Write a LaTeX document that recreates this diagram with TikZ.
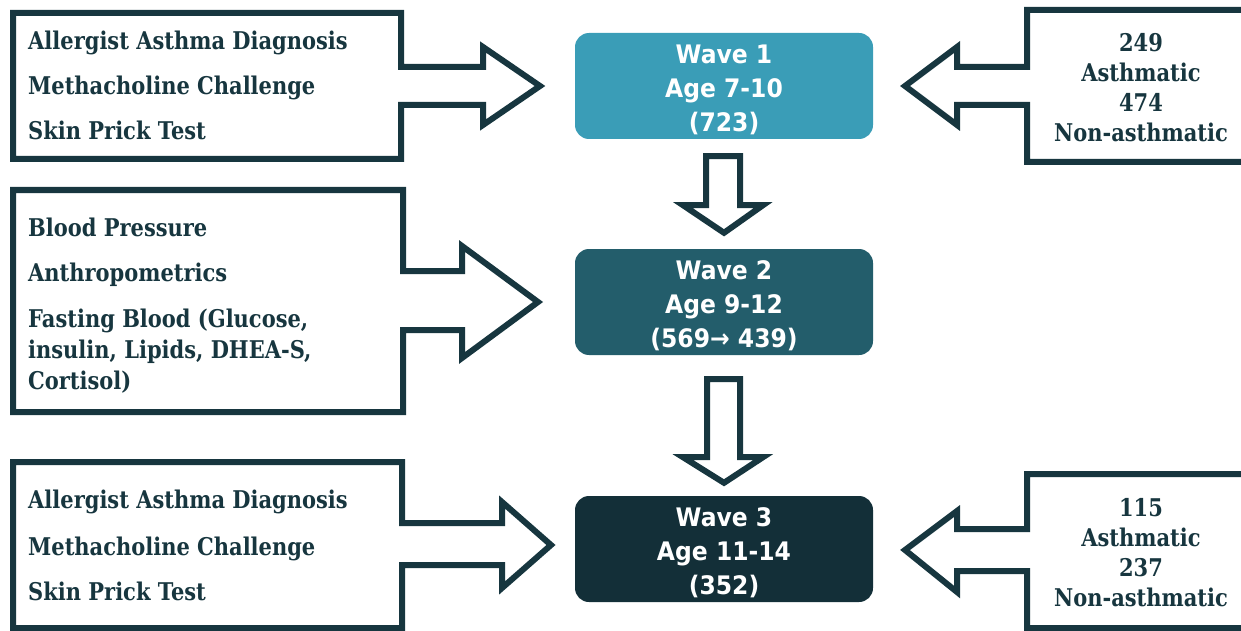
\documentclass[tikz,border=0pt]{standalone}
\usepackage{fontspec}
\newfontfamily\calloutfont{DejaVu Serif}[FakeStretch=0.86]
\newfontfamily\wavefont{DejaVu Sans}[FakeStretch=0.92]
\definecolor{ink}{HTML}{17363F}
\definecolor{waveA}{HTML}{3A9DB7}
\definecolor{waveB}{HTML}{235D6B}
\definecolor{waveC}{HTML}{132F38}
\tikzset{
  shapeline/.style={draw=ink, line width=6pt, line join=miter, fill=white},
  wavebox/.style={rounded corners=14pt, minimum width=298pt, minimum height=106pt,
    text=white, align=center, inner sep=0pt,
    font=\wavefont\bfseries\fontsize{25.5}{34}\selectfont},
  lefttext/.style={anchor=base west, inner sep=0pt, text=ink, align=left,
    font=\calloutfont\bfseries\fontsize{24.4}{31}\selectfont},
  righttext/.style={anchor=center, inner sep=0pt, text=ink, align=center,
    font=\calloutfont\bfseries\fontsize{24.4}{30}\selectfont},
}
\newcommand{\toppad}{\rule{0pt}{27pt}}
\begin{document}
\begin{tikzpicture}[x=1pt,y=-1pt]
\useasboundingbox (0,0) rectangle (1241,631);
% wave boxes
\node[wavebox, fill=waveA] (w1) at (724,86) {\toppad Wave 1\\Age 7-10\\(723)};
\node[wavebox, fill=waveB] (w2) at (724,302) {\toppad Wave 2\\Age 9-12\\(569\textrightarrow\ 439)};
\node[wavebox, fill=waveC] (w3) at (724,549) {\toppad Wave 3\\Age 11-14\\(352)};
% named tips of the callouts
\coordinate (tl) at (540,86);
\coordinate (ml) at (538,302);
\coordinate (bl) at (551,545);
\coordinate (tr) at (905,86);
\coordinate (br) at (905,550);
% top-left callout
\draw[shapeline] (13,13) -- (401,13) -- (401,67) -- (483,67) -- (483,47) -- (tl)
  -- (483,125) -- (483,105) -- (401,105) -- (401,159) -- (13,159) -- cycle;
% middle-left callout
\draw[shapeline] (13,190) -- (403,190) -- (403,271) -- (462,271) -- (462,246) -- (ml)
  -- (462,358) -- (462,330) -- (403,330) -- (403,412) -- (13,412) -- cycle;
% bottom-left callout
\draw[shapeline] (13,462) -- (402,462) -- (402,523) -- (502,523) -- (502,502) -- (bl)
  -- (502,588) -- (502,565) -- (402,565) -- (402,628) -- (13,628) -- cycle;
% top-right callout
\draw[shapeline] (1260,10) -- (1027,10) -- (1027,67) -- (957,67) -- (957,47) -- (tr)
  -- (957,125) -- (957,105) -- (1027,105) -- (1027,162) -- (1260,162);
% bottom-right callout
\draw[shapeline] (1260,474) -- (1027,474) -- (1027,529) -- (957,529) -- (957,511) -- (br)
  -- (957,592) -- (957,571) -- (1027,571) -- (1027,628) -- (1260,628);
% down arrows between waves
\draw[shapeline] ([xshift=-18pt,yshift=-17pt]w1.south) -- ([xshift=16pt,yshift=-17pt]w1.south)
  -- ([xshift=16pt,yshift=-66pt]w1.south) -- ([xshift=39pt,yshift=-66pt]w1.south)
  -- ([yshift=16pt]w2.north) -- ([xshift=-41pt,yshift=-66pt]w1.south)
  -- ([xshift=-18pt,yshift=-66pt]w1.south) -- cycle;
\draw[shapeline] ([xshift=-17pt,yshift=-24pt]w2.south) -- ([xshift=16pt,yshift=-24pt]w2.south)
  -- ([xshift=16pt,yshift=-102pt]w2.south) -- ([xshift=39pt,yshift=-102pt]w2.south)
  -- ([yshift=13pt]w3.north) -- ([xshift=-41pt,yshift=-102pt]w2.south)
  -- ([xshift=-17pt,yshift=-102pt]w2.south) -- cycle;
% texts
\node[lefttext] (t1) at (28,50) {Allergist Asthma Diagnosis};
\node[lefttext] (t2) at (28,95) {Methacholine Challenge};
\node[lefttext] (t3) at (28,140) {Skin Prick Test};
\node[lefttext] (m1) at (28,236) {Blood Pressure};
\node[lefttext] (m2) at (28,281) {Anthropometrics};
\node[lefttext] (m3) at (28,389) {Fasting Blood (Glucose,\\insulin, Lipids, DHEA-S,\\Cortisol)};
\node[lefttext] (b1) at (28,508) {Allergist Asthma Diagnosis};
\node[lefttext] (b2) at (28,555) {Methacholine Challenge};
\node[lefttext] (b3) at (28,600) {Skin Prick Test};
\node[righttext] (r1) at (1141,88) {249\\Asthmatic\\474\\Non-asthmatic};
\node[righttext] (r2) at (1141,553) {115\\Asthmatic\\237\\Non-asthmatic};
\end{tikzpicture}
\end{document}
